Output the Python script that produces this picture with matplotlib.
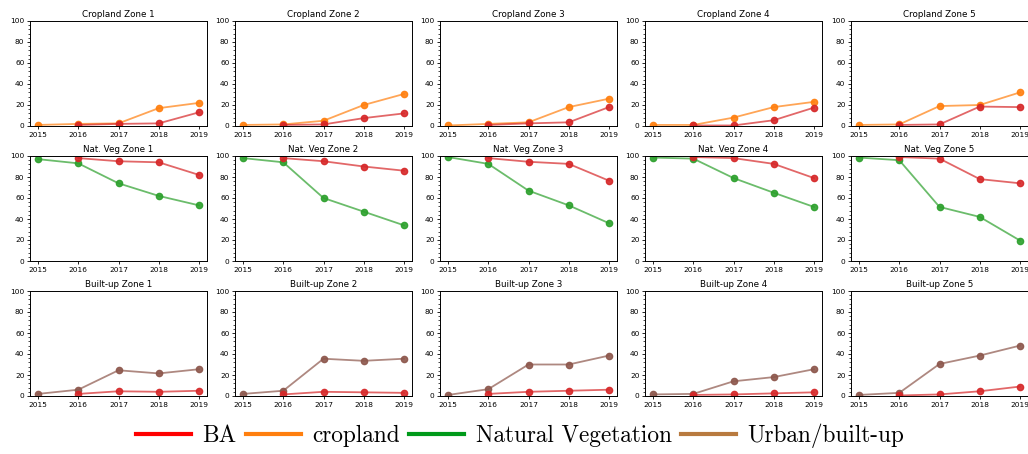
import matplotlib.pyplot as plt
import numpy as np
from matplotlib.lines import Line2D
from matplotlib.ticker import AutoMinorLocator

years = [2015, 2016, 2017, 2018, 2019]
ba_years = [2016, 2017, 2018, 2019]
zones = [1, 2, 3, 4, 5]

# row 1: cropland
cropland = [
    [1, 2, 2.5, 17, 22],
    [1, 1.5, 5, 20, 30.5],
    [0.5, 2, 3.5, 18, 26],
    [1, 1, 8, 18, 23],
    [1, 1.5, 19, 20, 32],
]
ba_cropland = [
    [1, 2, 2.5, 13],
    [1, 1.5, 7.5, 12],
    [1, 2.5, 3.5, 18],
    [0.5, 0.5, 5.5, 17.5],
    [1, 1.5, 18.5, 18],
]

# row 2: natural vegetation
natveg = [
    [97, 93, 74, 62, 53],
    [98, 94, 60, 47, 34],
    [99, 92.5, 67, 53, 36],
    [98.5, 97.5, 79, 65, 51.5],
    [98.5, 96, 51.5, 42, 19.5],
]
ba_natveg = [
    [98, 95, 94, 82],
    [98, 95, 90, 86],
    [98, 94.5, 92.5, 76.5],
    [99, 98, 92.5, 79],
    [99, 97.5, 78, 74],
]

# row 3: built-up
builtup = [
    [2, 6, 24.5, 21.5, 25.5],
    [2, 5, 35.5, 33.5, 35.5],
    [1, 6.5, 30, 30, 38.5],
    [1.5, 2, 14, 18, 25.5],
    [1, 3, 30.5, 38.5, 48],
]
ba_builtup = [
    [2, 4.5, 4, 5],
    [1.5, 4, 3.5, 3],
    [2, 4, 5, 6],
    [1, 1.5, 2.5, 3.5],
    [0.5, 1.5, 4.5, 9],
]

rows = [
    ('Cropland Zone', cropland, ba_cropland, 'tab:orange'),
    ('Nat. Veg Zone', natveg, ba_natveg, 'tab:green'),
    ('Built-up Zone', builtup, ba_builtup, 'tab:brown'),
]

W, H = 1028, 454
fig = plt.figure(figsize=(W / 100, H / 100), dpi=100)

lefts = [30, 235, 440, 645, 851]
tops = [21, 156, 291]
aw, ah = 177, 105


def draw(ax, x, y, col):
    ax.plot(x, y, '-', color=col, alpha=0.7, lw=1.3)
    ax.plot(x, y, 'o', color=col, alpha=0.9, ms=4.5)


for r, (name, lc, ba, col) in enumerate(rows):
    for c, z in enumerate(zones):
        ax = fig.add_axes([lefts[c] / W, 1 - (tops[r] + ah) / H, aw / W, ah / H])
        draw(ax, years, lc[c], col)
        draw(ax, ba_years, ba[c], 'tab:red')
        ax.set_ylim(0, 100)
        ax.set_xticks(years)
        ax.set_yticks(range(0, 101, 20))
        ax.yaxis.set_minor_locator(AutoMinorLocator(5))
        ax.tick_params(labelsize=5.3, length=2.5, width=0.6, pad=1.5)
        ax.tick_params(which='minor', length=1.5, width=0.5)
        ax.set_title(f'{name} {z}', fontsize=6.3, pad=3)
        for s in ax.spines.values():
            s.set_linewidth(0.7)

handles = [
    Line2D([], [], color='red', lw=3),
    Line2D([], [], color='#ff7f0e', lw=3),
    Line2D([], [], color='#009a1a', lw=3),
    Line2D([], [], color='#b87a3f', lw=3),
]
labels = ['BA', 'cropland', 'Natural Vegetation', 'Urban/built-up']
fig.legend(handles, labels, loc='center', bbox_to_anchor=(0.506, 1 - 436 / H),
           ncol=4, frameon=False, prop={'family': 'cmr10', 'size': 16.8},
           handlelength=2.35, handletextpad=0.5, columnspacing=0.4)

fig.savefig('out.png', dpi=100)
